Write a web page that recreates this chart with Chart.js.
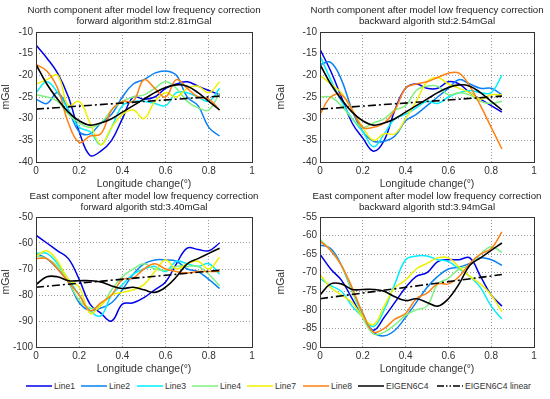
<!DOCTYPE html>
<html>
<head>
<meta charset="utf-8">
<script src="https://cdn.jsdelivr.net/npm/chart.js@4/dist/chart.umd.min.js"></script>
<style>
  body { margin: 0; background: #fff; }
  #wrap { position: relative; width: 550px; height: 399px; overflow: hidden; font-family: "Liberation Sans", Arial, sans-serif; color: #222; }
  canvas { position: absolute; }
  .ttl { position: absolute; text-align: center; font-size: 9.7px; line-height: 10.5px; white-space: nowrap; }
  .leg { position: absolute; top: 379.5px; font-size: 8.6px; line-height: 12px; display: flex; align-items: center; white-space: nowrap; color: #333; }
  .leg svg { margin-right: 2px; }
</style>
</head>
<body>
<div id="wrap">
  <canvas id="c0" width="275" height="190" style="left:0;top:0"></canvas>
  <canvas id="c1" width="275" height="190" style="left:275px;top:0"></canvas>
  <canvas id="c2" width="275" height="185" style="left:0;top:190px"></canvas>
  <canvas id="c3" width="275" height="185" style="left:275px;top:190px"></canvas>
</div>
<script>
// sample positions along the profile (degrees)
const xs = [0, 0.05, 0.1, 0.15, 0.2, 0.25, 0.3, 0.35, 0.4, 0.45, 0.5, 0.55, 0.6, 0.65, 0.7, 0.75, 0.8, 0.85];
const linX = [0, 0.85];

const seriesNames = ['Line1', 'Line2', 'Line3', 'Line4', 'Line7', 'Line8', 'EIGEN6C4', 'EIGEN6C4 linear'];
const xTicks = [0, 0.2, 0.4, 0.6, 0.8, 1];

// North, forward
const nfLine1 = [-13, -16, -19.5, -25, -33, -38.5, -37.5, -35, -30, -25, -25.5, -25, -23, -22, -21.5, -22.5, -23.5, -24.5];
const nfLine2 = [-25.5, -26.5, -24, -28, -33, -33.5, -31, -29, -25, -22, -21, -19.5, -19, -20, -25, -27, -32, -34];
const nfLine3 = [-24, -21.5, -24, -28, -32, -33, -36, -32, -27, -26, -26, -26.5, -27, -24, -24, -25, -26, -23];
const nfLine4 = [-24.5, -25, -26, -29, -31, -32, -31, -28, -26, -25, -24.5, -23, -21.5, -23, -26, -27.5, -28, -24];
const nfLine7 = [-22, -21, -20, -27, -26, -31, -36, -32, -29, -28, -30, -26, -24, -25, -23, -22.5, -24, -21.5];
const nfLine8 = [-17.5, -19, -23, -31, -35.5, -34, -33.5, -28, -26, -26, -21, -23, -25, -21, -23, -25, -25.5, -28];

// North, backward
const nbLine1 = [-14, -19, -25, -31, -34.5, -37.5, -35, -28, -23, -22, -23, -23, -21.5, -22, -24, -25.5, -27, -28.5];
const nbLine2 = [-17.5, -17, -21, -28, -33, -35.2, -35.2, -34, -30.5, -29, -27, -25, -23, -21, -22, -23, -23, -24.5];
const nbLine3 = [-15.5, -21, -26, -30, -33, -36.5, -33.5, -30, -29, -27.5, -26, -26.5, -25, -24, -23.5, -24, -24, -20];
const nbLine4 = [-25, -25, -27, -30, -32, -31, -30, -28, -27, -23.5, -22.5, -22.5, -24.5, -24, -24.5, -26, -26.5, -26];
const nbLine7 = [-20, -22, -24, -28, -32, -35, -33.5, -33.5, -30, -26, -21.5, -20.5, -22, -23, -24, -25.5, -24.5, -24.5];
const nbLine8 = [-29, -25, -24.5, -28, -32, -32, -31, -28, -23, -22, -21.5, -20.5, -19.5, -19.5, -22.5, -27, -32, -37];

// EIGEN6C4 north (same in both north panels)
const nEigen = [-17.5, -22, -25.5, -28.5, -30.5, -31.5, -31, -30, -28.5, -27, -25.5, -24, -22.8, -22.2, -22.5, -24, -26, -28];
const nLinear = [-27.8, -24.8];

// East, forward
const efLine1 = [-57, -60, -63, -66, -74, -83.5, -87, -90, -83.5, -83, -81, -78, -75, -68, -62, -62.5, -63, -60];
const efLine2 = [-64, -66, -70, -75, -83, -86, -85, -83, -78, -72, -68, -66.5, -66.5, -67, -70, -71, -74, -77.5];
const efLine3 = [-64, -64, -68, -74, -80, -86, -88, -80, -76, -72, -70, -69, -71, -67, -68, -69, -68, -72];
const efLine4 = [-65, -66, -69, -75, -82, -85, -84, -78, -73, -70, -68, -70, -70.5, -69, -69, -69, -72, -76.5];
const efLine7 = [-65, -63, -67, -74, -77, -87, -84, -80, -79, -78, -76, -71, -66.5, -70, -68, -67, -70, -65.5];
const efLine8 = [-66, -66, -70, -75, -80, -86, -83, -80, -74, -73.5, -70, -68, -70, -71, -71.5, -71, -71, -71];

// East, backward
const ebLine1 = [-65, -69, -72, -77, -82, -85.5, -82, -78, -74, -71, -70, -67, -66.5, -66.5, -66, -71, -76, -79];
const ebLine2 = [-62.5, -63.5, -68, -75, -81, -86, -87, -85.5, -82, -78, -74, -71, -69, -68.5, -67.5, -66, -66.5, -68];
const ebLine3 = [-71.5, -73.5, -75, -79, -82, -84.5, -80, -73, -66.5, -65.5, -65.5, -66.5, -67, -69, -71, -74, -79, -82.5];
const ebLine4 = [-61, -64, -68, -75, -82, -86.5, -86, -84, -81.5, -80, -79, -73, -71.5, -69, -68, -65, -63, -64.5];
const ebLine7 = [-70.5, -74, -76, -78, -82, -84, -79, -74, -72, -69, -67.5, -66, -66, -68.5, -71, -73, -76, -80.5];
const ebLine8 = [-61.5, -64, -68, -74, -81, -86, -85, -82.5, -81, -77, -75.5, -73, -73, -71, -67.5, -65, -63.5, -59];

// EIGEN6C4 east (same in both east panels)
const eEigen = [-76, -73, -73, -74.5, -74.5, -74.5, -75, -76.5, -77.5, -77, -78, -79, -77, -73, -68, -66, -64, -62];
const eLinear = [-77, -70.5];

const colors = ['#0000e8', '#0a80f5', '#00eeff', '#80f080', '#f0f000', '#ff7f10', '#000000', '#000000'];
const font = { family: '"Liberation Sans", Arial, sans-serif', size: 10 };

function pts(xv, yv) {
  return yv.map((v, i) => ({ x: xv[i], y: v }));
}

// frame round the plot area, like matlab's box on
const boxPlugin = {
  id: 'box',
  afterDraw(chart) {
    const a = chart.chartArea;
    const ctx = chart.ctx;
    ctx.save();
    ctx.strokeStyle = '#333';
    ctx.lineWidth = 1;
    ctx.strokeRect(Math.round(a.left) + 0.5, Math.round(a.top) + 0.5, Math.round(a.right - a.left), Math.round(a.bottom - a.top));
    ctx.restore();
  }
};

function makePanel(id, lines, eigen, linear, yMin, yMax, yStep, padTop, yWidth, padRight) {
  const datasets = lines.map((vals, i) => ({
    label: seriesNames[i],
    data: pts(xs, vals),
    borderColor: colors[i],
    borderWidth: 1.5,
    tension: 0.4,
    pointRadius: 0,
    fill: false,
    order: 10 - i
  }));
  datasets.push({
    label: seriesNames[6], data: pts(xs, eigen), borderColor: '#000', borderWidth: 1.6,
    tension: 0.4, pointRadius: 0, fill: false, order: 1
  });
  datasets.push({
    label: seriesNames[7], data: pts(linX, linear), borderColor: '#000', borderWidth: 1.6,
    borderDash: [8, 3, 2, 3], pointRadius: 0, fill: false, order: 0
  });

  return new Chart(document.getElementById(id), {
    type: 'line',
    data: { datasets },
    options: {
      responsive: false,
      animation: false,
      layout: { padding: { top: padTop, right: padRight, left: 0, bottom: 0 } },
      plugins: { legend: { display: false }, tooltip: { enabled: false } },
      scales: {
        x: {
          type: 'linear', min: 0, max: 1,
          afterBuildTicks: s => { s.ticks = xTicks.map(v => ({ value: v })); },
          ticks: { font, color: '#333', padding: 3, maxRotation: 0, callback: v => String(v) },
          grid: { color: '#999', drawTicks: false },
          border: { display: false, dash: [1, 2] },
          title: { display: true, text: 'Longitude change(°)', font: { ...font, size: 10.5 }, color: '#333', padding: { top: 1, bottom: 0 } },
          afterFit: s => { s.height = 28; }
        },
        y: {
          min: yMin, max: yMax,
          ticks: { stepSize: yStep, font, color: '#333', padding: 3 },
          grid: { color: '#999', drawTicks: false },
          border: { display: false, dash: [1, 2] },
          title: { display: true, text: 'mGal', font: { ...font, size: 10.5 }, color: '#333', padding: { top: 0, bottom: 2 } },
          afterFit: s => { s.width = yWidth; }
        }
      }
    },
    plugins: [boxPlugin]
  });
}

makePanel('c0', [nfLine1, nfLine2, nfLine3, nfLine4, nfLine7, nfLine8], nEigen, nLinear, -40, -10, 5, 32, 36, 23);
makePanel('c1', [nbLine1, nbLine2, nbLine3, nbLine4, nbLine7, nbLine8], nEigen, nLinear, -40, -10, 5, 32, 45, 16);
makePanel('c2', [efLine1, efLine2, efLine3, efLine4, efLine7, efLine8], eEigen, eLinear, -100, -50, 10, 27, 36, 23);
makePanel('c3', [ebLine1, ebLine2, ebLine3, ebLine4, ebLine7, ebLine8], eEigen, eLinear, -90, -55, 5, 27, 45, 16);

// panel titles, centred over each plot area
const titles = [
  ['North component after model low frequency correction', 'forward algorithm std:2.81mGal'],
  ['North component after model low frequency correction', 'backward algorith std:2.54mGal'],
  ['East component after model low frequency correction', 'forward algorith std:3.40mGal'],
  ['East component after model low frequency correction', 'backward algorith std:3.94mGal']
];
const titlePos = [[144, 5], [427, 5], [144, 191], [427, 191]];
const wrap = document.getElementById('wrap');
titles.forEach((t, i) => {
  const d = document.createElement('div');
  d.className = 'ttl';
  d.style.left = (titlePos[i][0] - 150) + 'px';
  d.style.width = '300px';
  d.style.top = titlePos[i][1] + 'px';
  d.innerHTML = t[0] + '<br>' + t[1];
  wrap.appendChild(d);
});

// shared legend along the bottom
const legLeft = [26, 81, 137, 192, 247, 303, 358, 437];
seriesNames.forEach((name, i) => {
  const d = document.createElement('div');
  d.className = 'leg';
  d.style.left = legLeft[i] + 'px';
  const dash = i === 7 ? ' stroke-dasharray="7,2,1.5,2,1.5,2"' : '';
  d.innerHTML = '<svg width="26" height="4"><line x1="0" y1="2" x2="26" y2="2" stroke="' + colors[i] + '" stroke-width="1.5"' + dash + '/></svg>' + name;
  wrap.appendChild(d);
});
</script>
</body>
</html>
